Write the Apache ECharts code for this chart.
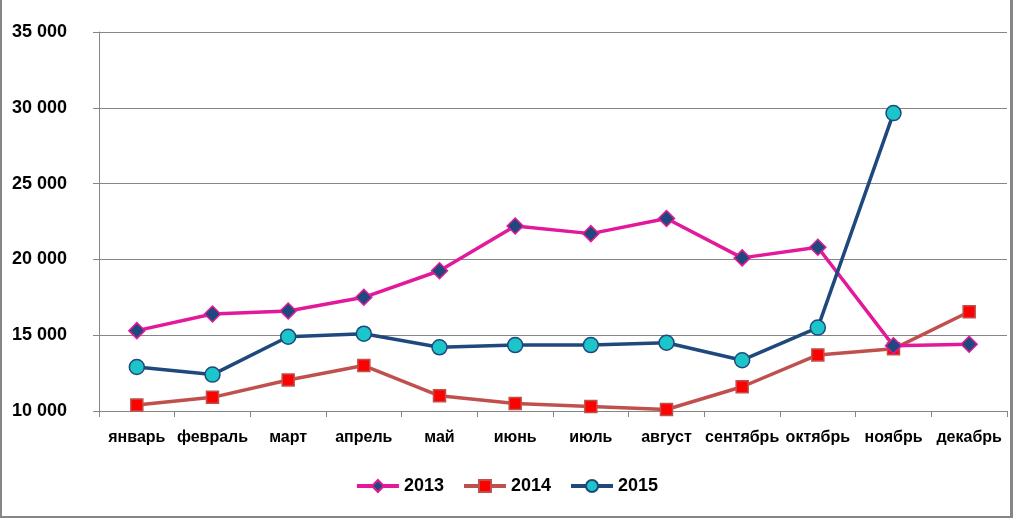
<!DOCTYPE html>
<html>
<head>
<meta charset="utf-8">
<script src="https://cdn.jsdelivr.net/npm/echarts@6/dist/echarts.min.js"></script>
<style>
html,body{margin:0;padding:0;background:#fff;}
#frame{position:absolute;left:0;top:0;width:1013px;height:518px;box-sizing:border-box;border-left:2px solid #868686;border-right:3px solid #868686;border-bottom:2px solid #868686;}
#chart{position:absolute;left:0;top:0;width:1013px;height:518px;}
</style>
</head>
<body>
<div id="chart"></div>
<div id="frame"></div>
<script>
const months = ['январь','февраль','март','апрель','май','июнь','июль','август','сентябрь','октябрь','ноябрь','декабрь'];
const seriesNames = ['2013','2014','2015'];
const values2013 = [15300,16400,16600,17500,19250,22200,21700,22700,20100,20800,14300,14400];
const values2014 = [10400,10900,12050,13000,11000,10500,10300,10100,11600,13700,14100,16550];
const values2015 = [12900,12400,14900,15100,14200,14350,14350,14500,13350,15500,29650,null];
const yTicks = {min:10000, max:35000, interval:5000};

const chart = echarts.init(document.getElementById('chart'));
const font = 'Liberation Sans';
chart.setOption({
  animation:false,
  backgroundColor:'#fff',
  grid:{left:99,right:6,top:32,bottom:107,containLabel:false},
  legend:{
    bottom:18, left:'center',
    itemWidth:42, itemHeight:15, itemGap:18,
    lineStyle:{width:4},
    textStyle:{fontFamily:font,fontWeight:'bold',fontSize:18,color:'#000'},
    data:seriesNames
  },
  xAxis:{
    type:'category', data:months, boundaryGap:true,
    axisLine:{lineStyle:{color:'#868686',width:1}},
    axisTick:{show:true,length:6,lineStyle:{color:'#868686'}},
    axisLabel:{fontFamily:font,fontWeight:'bold',fontSize:16,color:'#000',margin:19,interval:0}
  },
  yAxis:{
    type:'value', min:yTicks.min, max:yTicks.max, interval:yTicks.interval,
    axisLine:{show:true,lineStyle:{color:'#868686',width:1}},
    axisTick:{show:true,length:6,lineStyle:{color:'#868686'}},
    splitLine:{show:true,lineStyle:{color:'#868686',width:1}},
    axisLabel:{fontFamily:font,fontWeight:'bold',fontSize:18,color:'#000',margin:32,
      formatter:v=>String(v).replace(/\B(?=(\d{3})+(?!\d))/g,' ')}
  },
  series:[
    {name:seriesNames[0],type:'line',data:values2013,symbol:'diamond',symbolSize:16,
     lineStyle:{color:'#E3199B',width:3.5},itemStyle:{color:'#1F497D',borderColor:'#E3199B',borderWidth:1.5},z:3},
    {name:seriesNames[1],type:'line',data:values2014,symbol:'rect',symbolSize:12,
     lineStyle:{color:'#C0504D',width:3.5},itemStyle:{color:'#FF0000',borderColor:'#C0504D',borderWidth:1.5},z:2},
    {name:seriesNames[2],type:'line',data:values2015,symbol:'circle',symbolSize:15,
     lineStyle:{color:'#1F497D',width:3.5},itemStyle:{color:'#1BC5C9',borderColor:'#1F497D',borderWidth:1.5},z:4}
  ]
});
</script>
</body>
</html>
